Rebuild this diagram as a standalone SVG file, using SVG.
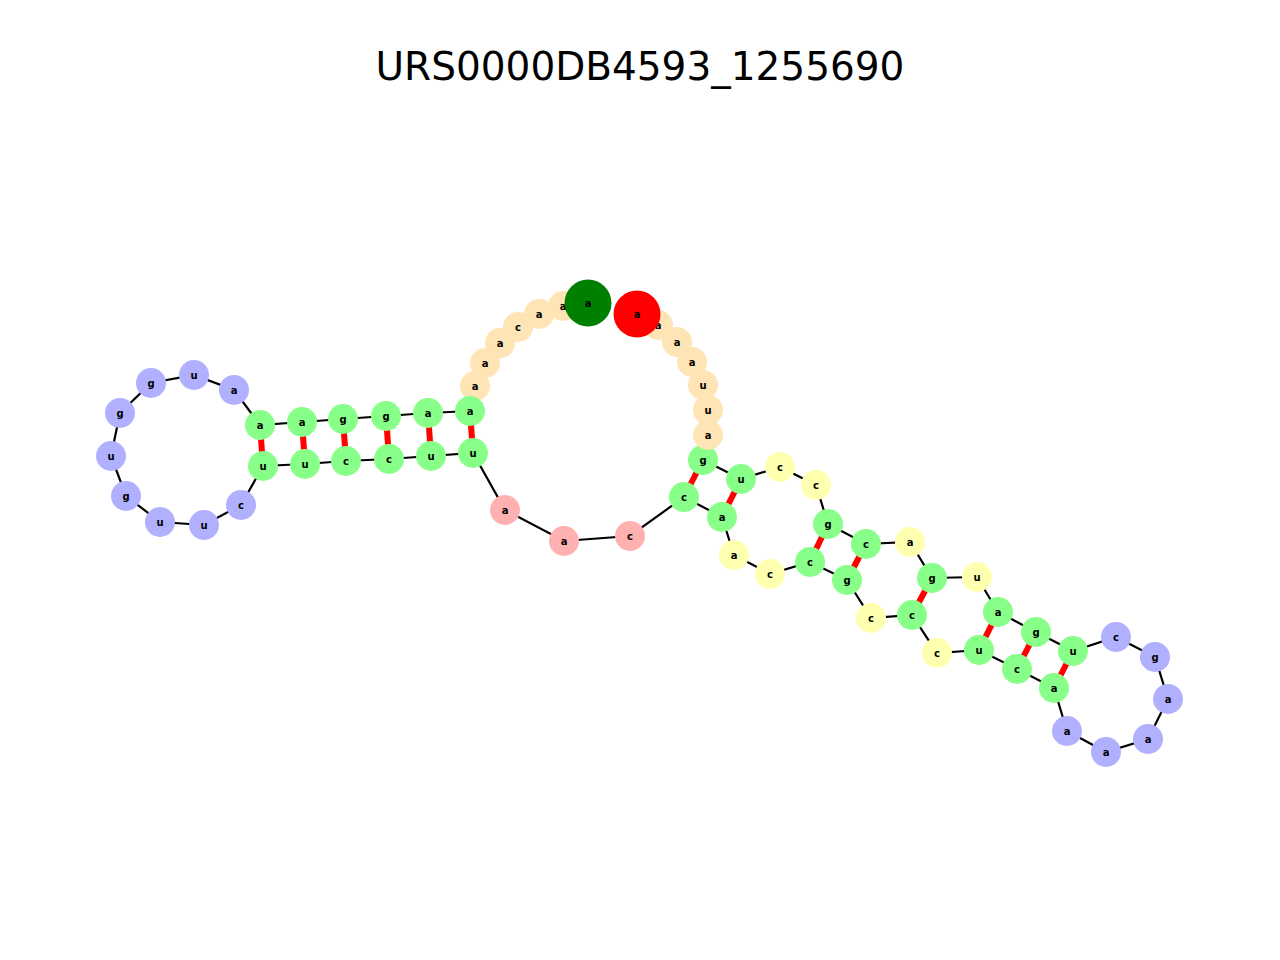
<svg xmlns="http://www.w3.org/2000/svg" width="1280" height="960" viewBox="0 0 1280 960">
<style>
.bb{stroke:#000;stroke-width:2.2;fill:none}
.pr{stroke:#f00;stroke-width:6}
circle{stroke:none}
.s{fill:#ffe4b5}.m{fill:#88ff88}.h{fill:#b0b0ff}.i{fill:#ffb0b0}.y{fill:#ffffb0}
text{font-family:"DejaVu Sans",sans-serif;font-size:10px;font-weight:bold;text-anchor:middle;dominant-baseline:central;fill:#000}
.t{font-size:39px;font-weight:normal}
</style>
<rect width="1280" height="960" fill="#fff"/>
<text class="t" x="640" y="66">URS0000DB4593_1255690</text>
<g id="connectors">
<polyline class="bb" points="588,303 563,306 539,314 518,327 500,343 485,363 475,386 470,411 428,413 386,416 343,419 302,422 260,425 234,390 194,375 151,383 120,413 111,456 126,496 160,522 204,525 241,505 263,466 305,464 346,461 389,459 431,456 473,453 505,510 564,541 630,536 684,497 722,517 734,555 770,574 810,562 847,580 871,618 912,615 937,653 979,650 1017,669 1054,688 1067,731 1106,752 1148,739 1168,699 1155,657 1116,637 1073,651 1036,632 998,612 977,577 932,578 910,542 866,544 828,524 816,485 780,467 741,479 703,460 708,435 708,410 703,385 692,362 677,342 658,325 637,314"/>
<line class="pr" x1="470" y1="411" x2="473" y2="453"/>
<line class="pr" x1="428" y1="413" x2="431" y2="456"/>
<line class="pr" x1="386" y1="416" x2="389" y2="459"/>
<line class="pr" x1="343" y1="419" x2="346" y2="461"/>
<line class="pr" x1="302" y1="422" x2="305" y2="464"/>
<line class="pr" x1="260" y1="425" x2="263" y2="466"/>
<line class="pr" x1="703" y1="460" x2="684" y2="497"/>
<line class="pr" x1="741" y1="479" x2="722" y2="517"/>
<line class="pr" x1="828" y1="524" x2="810" y2="562"/>
<line class="pr" x1="866" y1="544" x2="847" y2="580"/>
<line class="pr" x1="932" y1="578" x2="912" y2="615"/>
<line class="pr" x1="998" y1="612" x2="979" y2="650"/>
<line class="pr" x1="1036" y1="632" x2="1017" y2="669"/>
<line class="pr" x1="1073" y1="651" x2="1054" y2="688"/>
</g>
<g id="n2"><circle class="s" cx="563" cy="306" r="15"/><text x="563" y="306">a</text></g>
<g id="n3"><circle class="s" cx="539" cy="314" r="15"/><text x="539" y="314">a</text></g>
<g id="n4"><circle class="s" cx="518" cy="327" r="15"/><text x="518" y="327">c</text></g>
<g id="n5"><circle class="s" cx="500" cy="343" r="15"/><text x="500" y="343">a</text></g>
<g id="n6"><circle class="s" cx="485" cy="363" r="15"/><text x="485" y="363">a</text></g>
<g id="n7"><circle class="s" cx="475" cy="386" r="15"/><text x="475" y="386">a</text></g>
<g id="n8"><circle class="m" cx="470" cy="411" r="15"/><text x="470" y="411">a</text></g>
<g id="n9"><circle class="m" cx="428" cy="413" r="15"/><text x="428" y="413">a</text></g>
<g id="n10"><circle class="m" cx="386" cy="416" r="15"/><text x="386" y="416">g</text></g>
<g id="n11"><circle class="m" cx="343" cy="419" r="15"/><text x="343" y="419">g</text></g>
<g id="n12"><circle class="m" cx="302" cy="422" r="15"/><text x="302" y="422">a</text></g>
<g id="n13"><circle class="m" cx="260" cy="425" r="15"/><text x="260" y="425">a</text></g>
<g id="n14"><circle class="h" cx="234" cy="390" r="15"/><text x="234" y="390">a</text></g>
<g id="n15"><circle class="h" cx="194" cy="375" r="15"/><text x="194" y="375">u</text></g>
<g id="n16"><circle class="h" cx="151" cy="383" r="15"/><text x="151" y="383">g</text></g>
<g id="n17"><circle class="h" cx="120" cy="413" r="15"/><text x="120" y="413">g</text></g>
<g id="n18"><circle class="h" cx="111" cy="456" r="15"/><text x="111" y="456">u</text></g>
<g id="n19"><circle class="h" cx="126" cy="496" r="15"/><text x="126" y="496">g</text></g>
<g id="n20"><circle class="h" cx="160" cy="522" r="15"/><text x="160" y="522">u</text></g>
<g id="n21"><circle class="h" cx="204" cy="525" r="15"/><text x="204" y="525">u</text></g>
<g id="n22"><circle class="h" cx="241" cy="505" r="15"/><text x="241" y="505">c</text></g>
<g id="n23"><circle class="m" cx="263" cy="466" r="15"/><text x="263" y="466">u</text></g>
<g id="n24"><circle class="m" cx="305" cy="464" r="15"/><text x="305" y="464">u</text></g>
<g id="n25"><circle class="m" cx="346" cy="461" r="15"/><text x="346" y="461">c</text></g>
<g id="n26"><circle class="m" cx="389" cy="459" r="15"/><text x="389" y="459">c</text></g>
<g id="n27"><circle class="m" cx="431" cy="456" r="15"/><text x="431" y="456">u</text></g>
<g id="n28"><circle class="m" cx="473" cy="453" r="15"/><text x="473" y="453">u</text></g>
<g id="n29"><circle class="i" cx="505" cy="510" r="15"/><text x="505" y="510">a</text></g>
<g id="n30"><circle class="i" cx="564" cy="541" r="15"/><text x="564" y="541">a</text></g>
<g id="n31"><circle class="i" cx="630" cy="536" r="15"/><text x="630" y="536">c</text></g>
<g id="n32"><circle class="m" cx="684" cy="497" r="15"/><text x="684" y="497">c</text></g>
<g id="n33"><circle class="m" cx="722" cy="517" r="15"/><text x="722" y="517">a</text></g>
<g id="n34"><circle class="y" cx="734" cy="555" r="15"/><text x="734" y="555">a</text></g>
<g id="n35"><circle class="y" cx="770" cy="574" r="15"/><text x="770" y="574">c</text></g>
<g id="n36"><circle class="m" cx="810" cy="562" r="15"/><text x="810" y="562">c</text></g>
<g id="n37"><circle class="m" cx="847" cy="580" r="15"/><text x="847" y="580">g</text></g>
<g id="n38"><circle class="y" cx="871" cy="618" r="15"/><text x="871" y="618">c</text></g>
<g id="n39"><circle class="m" cx="912" cy="615" r="15"/><text x="912" y="615">c</text></g>
<g id="n40"><circle class="y" cx="937" cy="653" r="15"/><text x="937" y="653">c</text></g>
<g id="n41"><circle class="m" cx="979" cy="650" r="15"/><text x="979" y="650">u</text></g>
<g id="n42"><circle class="m" cx="1017" cy="669" r="15"/><text x="1017" y="669">c</text></g>
<g id="n43"><circle class="m" cx="1054" cy="688" r="15"/><text x="1054" y="688">a</text></g>
<g id="n44"><circle class="h" cx="1067" cy="731" r="15"/><text x="1067" y="731">a</text></g>
<g id="n45"><circle class="h" cx="1106" cy="752" r="15"/><text x="1106" y="752">a</text></g>
<g id="n46"><circle class="h" cx="1148" cy="739" r="15"/><text x="1148" y="739">a</text></g>
<g id="n47"><circle class="h" cx="1168" cy="699" r="15"/><text x="1168" y="699">a</text></g>
<g id="n48"><circle class="h" cx="1155" cy="657" r="15"/><text x="1155" y="657">g</text></g>
<g id="n49"><circle class="h" cx="1116" cy="637" r="15"/><text x="1116" y="637">c</text></g>
<g id="n50"><circle class="m" cx="1073" cy="651" r="15"/><text x="1073" y="651">u</text></g>
<g id="n51"><circle class="m" cx="1036" cy="632" r="15"/><text x="1036" y="632">g</text></g>
<g id="n52"><circle class="m" cx="998" cy="612" r="15"/><text x="998" y="612">a</text></g>
<g id="n53"><circle class="y" cx="977" cy="577" r="15"/><text x="977" y="577">u</text></g>
<g id="n54"><circle class="m" cx="932" cy="578" r="15"/><text x="932" y="578">g</text></g>
<g id="n55"><circle class="y" cx="910" cy="542" r="15"/><text x="910" y="542">a</text></g>
<g id="n56"><circle class="m" cx="866" cy="544" r="15"/><text x="866" y="544">c</text></g>
<g id="n57"><circle class="m" cx="828" cy="524" r="15"/><text x="828" y="524">g</text></g>
<g id="n58"><circle class="y" cx="816" cy="485" r="15"/><text x="816" y="485">c</text></g>
<g id="n59"><circle class="y" cx="780" cy="467" r="15"/><text x="780" y="467">c</text></g>
<g id="n60"><circle class="m" cx="741" cy="479" r="15"/><text x="741" y="479">u</text></g>
<g id="n61"><circle class="m" cx="703" cy="460" r="15"/><text x="703" y="460">g</text></g>
<g id="n62"><circle class="s" cx="708" cy="435" r="15"/><text x="708" y="435">a</text></g>
<g id="n63"><circle class="s" cx="708" cy="410" r="15"/><text x="708" y="410">u</text></g>
<g id="n64"><circle class="s" cx="703" cy="385" r="15"/><text x="703" y="385">u</text></g>
<g id="n65"><circle class="s" cx="692" cy="362" r="15"/><text x="692" y="362">a</text></g>
<g id="n66"><circle class="s" cx="677" cy="342" r="15"/><text x="677" y="342">a</text></g>
<g id="n67"><circle class="s" cx="658" cy="325" r="15"/><text x="658" y="325">a</text></g>
<g id="n68"><circle fill="#f00" cx="637" cy="314" r="23.5"/><text x="637" y="314">a</text></g>
<g id="n1"><circle fill="#008000" cx="588" cy="303" r="23.5"/><text x="588" y="303">a</text></g>
</svg>
